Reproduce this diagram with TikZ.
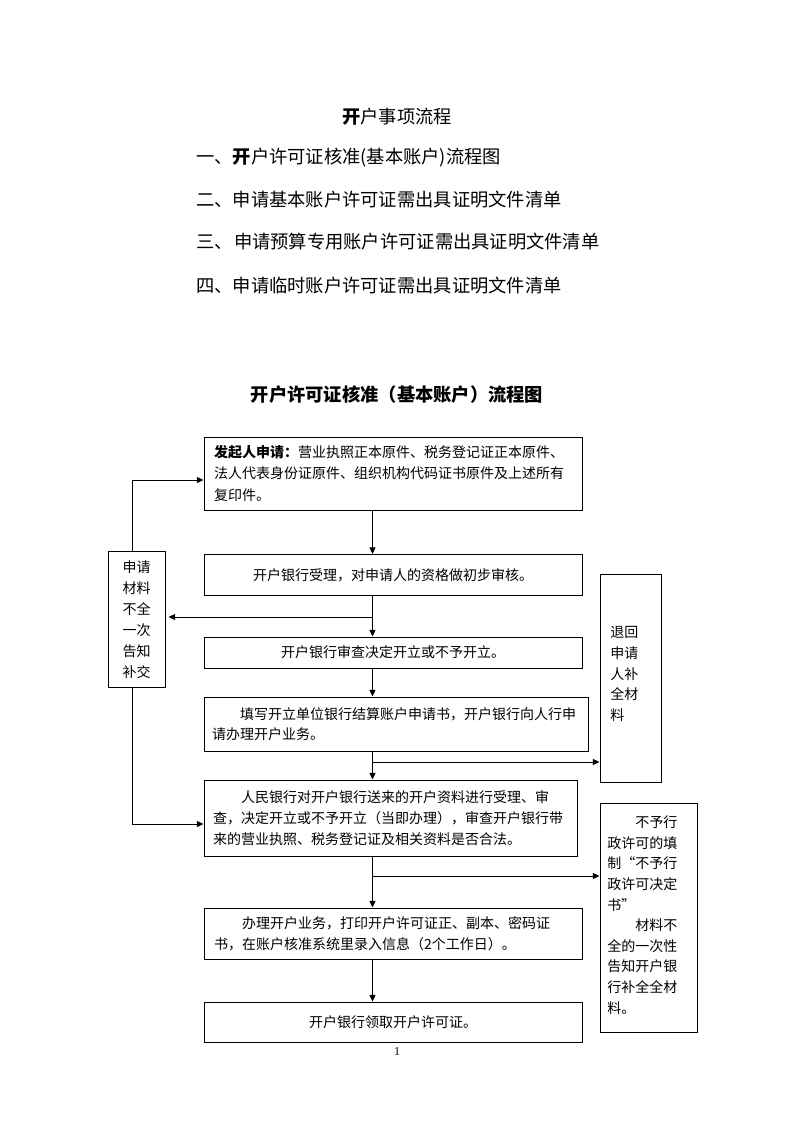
\documentclass[tikz,border=0pt]{standalone}
\usepackage{fontspec}
\setmainfont{Noto Sans CJK SC}
\newfontfamily\serif{Liberation Serif}
\usetikzlibrary{arrows.meta,calc}
\tikzset{
  arr/.style={line width=0.7pt,-{Triangle[length=5pt,width=4.5pt]}},
  box/.style={draw,line width=0.7pt,inner sep=0pt,font=\fontsize{10.5pt}{16pt}\selectfont},
  heading/.style={inner sep=0pt,font=\fontsize{13.7pt}{16pt}\selectfont},
  sidetext/.style={inner sep=0pt,align=left,font=\fontsize{10.5pt}{15.7pt}\selectfont}
}
\begin{document}
\begin{tikzpicture}[x=0.75pt,y=-0.75pt]
\useasboundingbox (0,0) rectangle (794,1123);
% headings
\node[heading] (t0) at (397,117) {\textbf{开}户事项流程};
\node[heading,anchor=west] (t1) at (196,158) {一、\textbf{开}户许可证核准(基本账户)流程图};
\node[heading,anchor=west] (t2) at (196,200) {二、申请基本账户许可证需出具证明文件清单};
\node[heading,anchor=west] (t3) at (196,242) {三、\hspace{1pt}申请预算专用账户许可证需出具证明文件清单};
\node[heading,anchor=west] (t4) at (196,286) {四、申请临时账户许可证需出具证明文件清单};
\node[heading] (t5) at (397,395) {\textbf{开户许可证核准（基本账户）流程图}};
% main boxes
\node[box,minimum width=378*0.75pt,minimum height=73*0.75pt,text width=358*0.75pt,align=left] (b1) at (393,473.5)
 {\textbf{发起人申请：}营业执照正本原件、税务登记证正本原件、\\法人代表身份证原件、组织机构代码证书原件及上述所有\\复印件。};
\node[box,minimum width=378*0.75pt,minimum height=41*0.75pt,align=center] (b2) at (393,575)
 {开户银行受理，对申请人的资格做初步审核。};
\node[box,minimum width=378*0.75pt,minimum height=31*0.75pt,align=center] (b3) at (393,652.5)
 {开户银行审查决定开立或不予开立。};
\node[box,minimum width=384*0.75pt,minimum height=54*0.75pt,text width=368*0.75pt,align=left,font=\fontsize{10.5pt}{15pt}\selectfont] (b4) at (396,724)
 {\hspace*{2em}填写开立单位银行结算账户申请书，开户银行向人行申\\请办理开户业务。};
\node[box,minimum width=373*0.75pt,minimum height=76*0.75pt,text width=355*0.75pt,align=left,font=\fontsize{10.5pt}{15.7pt}\selectfont] (b5) at (390.5,818)
 {\hspace*{2em}人民银行对开户银行送来的开户资料进行受理、审\\查，决定开立或不予开立（当即办理），审查开户银行带\\来的营业执照、税务登记证及相关资料是否合法。};
\node[box,minimum width=378*0.75pt,minimum height=51*0.75pt,text width=358*0.75pt,align=left] (b6) at (393,933.5)
 {\hspace*{2em}办理开户业务，打印开户许可证正、副本、密码证\\书，在账户核准系统里录入信息（2个工作日）。};
\node[box,minimum width=378*0.75pt,minimum height=40*0.75pt,align=center] (b7) at (393,1022)
 {开户银行领取开户许可证。};
% side boxes
\node[box,minimum width=57*0.75pt,minimum height=136*0.75pt] (L) at (136.5,619) {};
\node[sidetext,align=center] (Lt) at (136.5,620) {申请\\材料\\不全\\一次\\告知\\补交};
\node[box,minimum width=61*0.75pt,minimum height=208*0.75pt] (R1) at (630.5,678) {};
\node[sidetext,anchor=west] (R1t) at (610,674) {退回\\申请\\人补\\全材\\料};
\node[box,minimum width=97*0.75pt,minimum height=229*0.75pt] (R2) at (648.5,917.5) {};
\node[sidetext,anchor=west,font=\fontsize{10.5pt}{15.45pt}\selectfont] (R2t) at (607,915)
 {\hspace*{2em}不予行\\政许可的填\\制“不予行\\政许可决定\\书”\\\hspace*{2em}材料不\\全的一次性\\告知开户银\\行补全全材\\料。};
% connectors
\coordinate (cx) at (372.5,0);
\coordinate (j1) at (372.5,617);
\coordinate (j2) at (372.5,762);
\coordinate (j3) at (372.5,876);
\coordinate (lx) at (132,0);
\coordinate (k1) at (132,480);
\coordinate (k2) at (132,824);
\draw[arr] (b1.south -| cx) -- (b2.north -| cx);
\draw[arr] (b2.south -| cx) -- (b3.north -| cx);
\draw[arr] (j1) -- ($(L.east |- j1)+(3,0)$);
\draw[arr] (b3.south -| cx) -- (b4.north -| cx);
\draw[arr] (b4.south -| cx) -- (b5.north -| cx);
\draw[arr] (j2) -- (R1.west |- j2);
\draw[arr] (b5.south -| cx) -- (b6.north -| cx);
\draw[arr] (j3) -- (R2.west |- j3);
\draw[arr] (b6.south -| cx) -- (b7.north -| cx);
\draw[arr] (L.north -| lx) -- (k1) -- (b1.west |- k1);
\draw[arr] (L.south -| lx) -- (k2) -- (b5.west |- k2);
% page number
\node[inner sep=0pt,font=\serif\fontsize{9pt}{9pt}\selectfont] (pg) at (397,1052) {1};
\end{tikzpicture}
\end{document}
